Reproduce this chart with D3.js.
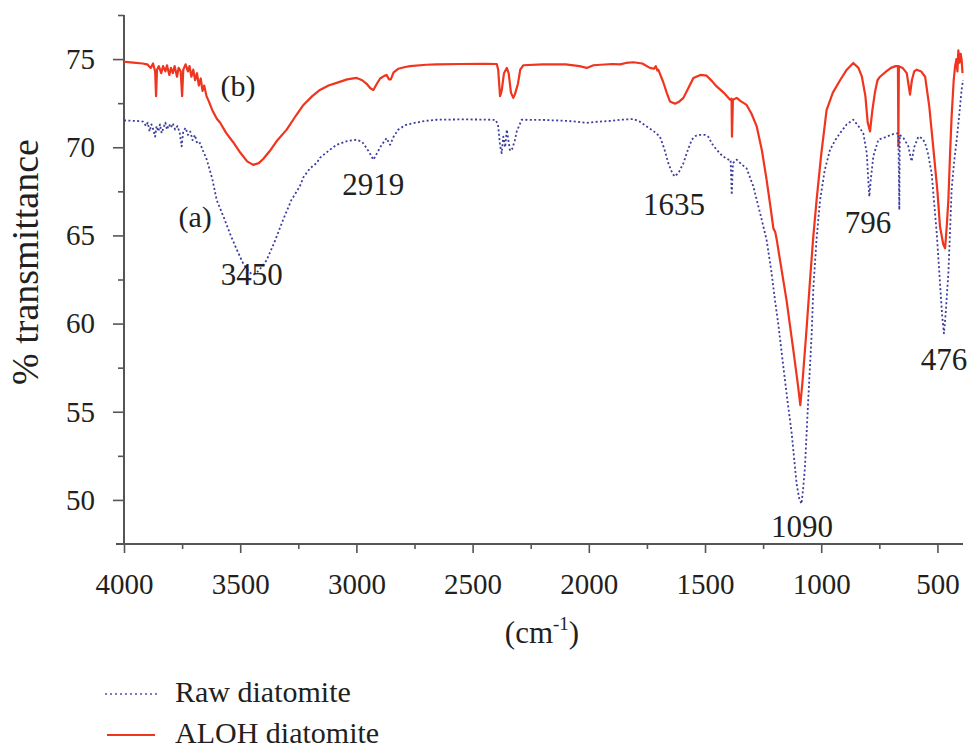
<!DOCTYPE html>
<html>
<head>
<meta charset="utf-8">
<script src="https://cdn.jsdelivr.net/npm/d3@7"></script>
<style>
  html, body { margin: 0; padding: 0; background: #fff; }
  svg { display: block; font-family: "Liberation Serif", "DejaVu Serif", serif; }
</style>
</head>
<body>
<svg id="chart" width="973" height="749"></svg>
<script>
// ---------- DATA ----------
const xTicks = [4000, 3500, 3000, 2500, 2000, 1500, 1000, 500];
const xMinorTicks = [3750, 3250, 2750, 2250, 1750, 1250, 750];
const yTicks = [50, 55, 60, 65, 70, 75];
const yMinorTicks = [52.5, 57.5, 62.5, 67.5, 72.5, 77.5];

// Raw diatomite (a): wavenumber (cm-1) and % transmittance
const rawWn = [4000,3960,3930,3918,3905,3898,3890,3882,3874,3866,3860,3852,3845,3838,3830,3822,3815,3806,3798,3790,3780,3770,3760,3752,3745,3735,3725,3715,3705,3695,3685,3673,3660,3644,3620,3601,3570,3544,3515,3487,3460,3444,3420,3386,3350,3315,3280,3243,3228,3200,3171,3157,3114,3085,3040,2999,2975,2956,2940,2927,2910,2891,2870,2862,2855,2840,2820,2790,2755,2700,2655,2550,2450,2400,2390,2382,2375,2368,2360,2353,2345,2339,2330,2318,2310,2289,2200,2100,2050,2009,1960,1900,1866,1808,1780,1751,1720,1694,1675,1658,1640,1629,1612,1593,1575,1557,1540,1522,1500,1486,1470,1450,1425,1400,1390,1385,1380,1364,1340,1321,1292,1263,1235,1215,1199,1185,1163,1145,1127,1106,1095,1085,1078,1070,1056,1041,1034,1020,1005,985,962,940,919,890,862,840,819,804,797,793,788,776,754,718,690,668,664,662,645,625,615,611,600,582,565,553,540,525,510,503,490,480,472,465,453,445,439,428,417,405,396,390];
const rawT = [71.52,71.5,71.48,71.45,71.2,71.4,70.9,71.3,71.0,70.6,71.2,70.9,71.3,70.8,71.1,71.4,71.0,71.3,71.1,71.35,71.0,71.2,70.8,70.05,70.9,71.1,70.7,70.9,70.4,70.7,70.2,70.24,69.8,69.3,68.2,67.0,66.0,65.1,64.2,63.4,62.9,62.76,63.0,63.6,64.7,65.9,67.0,67.8,68.3,68.8,69.1,69.4,69.86,70.14,70.35,70.43,70.3,69.95,69.6,69.29,69.7,70.14,70.52,70.3,70.14,70.6,71.0,71.25,71.37,71.5,71.56,71.58,71.57,71.55,71.2,70.1,69.67,70.6,70.0,71.0,70.3,69.8,69.9,70.4,70.9,71.56,71.55,71.5,71.45,71.38,71.45,71.5,71.56,71.6,71.45,71.18,70.9,70.6,69.9,69.1,68.5,68.34,68.6,69.1,69.8,70.43,70.65,70.7,70.7,70.6,70.2,69.86,69.5,69.3,69.3,67.3,69.1,69.3,69.0,68.8,67.77,66.26,64.74,63.0,61.33,60.0,57.55,55.6,53.76,50.92,50.1,49.78,50.6,51.86,55.65,59.44,62.0,64.8,67.0,68.7,69.86,70.4,70.8,71.3,71.56,71.2,70.8,69.67,68.0,67.2,68.0,69.48,70.43,70.6,70.75,70.8,66.45,70.7,70.5,70.05,69.4,69.2,70.0,70.6,70.5,70.24,69.6,68.53,66.2,65.12,62.5,60.5,59.44,60.5,62.85,65.5,67.6,69.2,70.43,72.0,73.27,73.8];

// ALOH diatomite (b)
const alohWn = [4000,3960,3920,3900,3885,3875,3866,3862,3858,3850,3840,3832,3822,3815,3805,3798,3790,3782,3772,3765,3756,3750,3745,3735,3725,3718,3710,3702,3694,3686,3678,3670,3662,3655,3645,3635,3620,3600,3587,3560,3531,3500,3470,3444,3420,3400,3372,3340,3300,3260,3228,3190,3157,3120,3085,3040,2999,2975,2956,2940,2927,2912,2898,2880,2870,2860,2852,2840,2820,2790,2769,2700,2655,2550,2450,2396,2390,2382,2375,2365,2353,2345,2335,2325,2318,2305,2295,2282,2200,2100,2040,2009,1980,1900,1866,1840,1808,1770,1737,1720,1712,1705,1701,1680,1665,1651,1629,1610,1593,1570,1550,1520,1493,1470,1450,1420,1392,1386,1384,1380,1364,1345,1321,1300,1278,1255,1235,1215,1206,1198,1192,1170,1149,1120,1100,1090,1080,1070,1062,1048,1035,1020,1000,977,950,919,890,862,840,825,810,800,790,780,769,758,747,720,700,680,670,668,666,650,632,625,618,610,600,589,570,553,535,517,500,489,475,467,460,453,446,439,430,424,418,414,410,405,400,396,392];
const alohT = [74.85,74.8,74.75,74.7,74.5,74.75,74.3,72.9,74.4,74.6,74.2,74.6,74.3,74.65,74.1,74.5,74.2,74.6,74.0,74.5,74.3,72.9,74.4,74.7,74.3,74.6,74.0,74.4,73.8,74.2,73.5,73.9,73.2,73.5,72.9,72.6,72.1,71.6,71.4,70.8,70.3,69.7,69.2,69.0,69.1,69.35,69.8,70.4,71.0,71.8,72.4,72.9,73.25,73.5,73.65,73.85,73.93,73.8,73.6,73.35,73.25,73.6,73.9,74.05,74.1,73.85,73.85,74.25,74.45,74.55,74.6,74.68,74.7,74.72,74.73,74.72,74.4,72.9,73.2,74.2,74.5,74.2,73.1,72.8,73.0,73.6,74.4,74.65,74.7,74.7,74.6,74.5,74.65,74.72,74.7,74.78,74.82,74.75,74.5,74.45,74.6,74.35,74.4,73.7,73.1,72.6,72.47,72.6,72.8,73.4,73.93,74.1,74.06,73.75,73.45,73.1,72.7,72.75,70.6,72.7,72.8,72.6,72.4,71.9,71.2,69.8,68.15,66.3,65.4,65.2,64.8,63.0,61.3,58.5,56.5,55.37,56.8,58.5,59.9,62.5,64.8,67.0,69.6,72.1,73.1,73.8,74.4,74.78,74.5,74.0,72.9,71.4,70.9,72.1,73.1,73.8,74.0,74.3,74.5,74.6,74.6,70.05,74.6,74.5,74.2,73.6,72.98,73.8,74.3,74.4,74.3,74.0,72.3,69.86,67.5,65.5,64.5,64.27,65.5,67.0,69.5,71.75,73.8,74.6,75.0,74.3,75.5,74.8,75.3,74.97,74.2];

const peakLabels = ["3450", "2919", "1635", "1090", "796", "476"];
const peakWn = [3450, 2928, 1633, 1083, 799, 472];
const peakT = [62.19, 67.29, 66.16, 47.9, 65.14, 57.37];   // label anchor (value at text baseline)
const seriesNames = ["Raw diatomite", "ALOH diatomite"];
const curveTags = ["(a)", "(b)"];
const curveTagWn = [3694, 3509];
const curveTagT = [65.48, 72.91];

// ---------- LAYOUT ----------
const svg = d3.select("#chart");
const M = { left: 124, top: 15 };
const W = 963 - M.left, H = 544 - M.top;
const axisColor = "#555";
const textColor = "#231f20";
const blue = "#3d3d9e";
const red = "#f0341e";
const serif = '"Liberation Serif", "DejaVu Serif", serif';

const x = d3.scaleLinear().domain([4000, 390]).range([M.left, M.left + W]);
const y = d3.scaleLinear().domain([47.5, 77.5]).range([M.top + H, M.top]);

// ---------- AXES ----------
const gx = svg.append("g").attr("transform", `translate(0,${M.top + H})`)
  .call(d3.axisBottom(x).tickValues(xTicks).tickFormat(d3.format("d")).tickSizeInner(9).tickSizeOuter(0).tickPadding(20));
const gxm = svg.append("g").attr("transform", `translate(0,${M.top + H})`)
  .call(d3.axisBottom(x).tickValues(xMinorTicks).tickFormat("").tickSizeInner(5).tickSizeOuter(0));
const gy = svg.append("g").attr("transform", `translate(${M.left},0)`)
  .call(d3.axisLeft(y).tickValues(yTicks).tickFormat(d3.format("d")).tickSizeInner(11).tickSizeOuter(0).tickPadding(18));
const gym = svg.append("g").attr("transform", `translate(${M.left},0)`)
  .call(d3.axisLeft(y).tickValues(yMinorTicks).tickFormat("").tickSizeInner(6).tickSizeOuter(0));

[gx, gxm, gy, gym].forEach(g => {
  g.attr("font-family", serif);
  g.select(".domain").remove();
  g.selectAll(".tick line").attr("stroke", axisColor).attr("stroke-width", 1.6);
  g.selectAll(".tick text").attr("fill", textColor).attr("font-family", serif).style("font-size", "29px");
});
gx.selectAll(".tick text").attr("dy", "0.71em");

// axis lines
svg.append("line").attr("x1", M.left - 8).attr("x2", M.left + W).attr("y1", M.top + H).attr("y2", M.top + H)
  .attr("stroke", axisColor).attr("stroke-width", 2);
svg.append("line").attr("x1", M.left).attr("x2", M.left).attr("y1", M.top).attr("y2", M.top + H)
  .attr("stroke", axisColor).attr("stroke-width", 2);

// ---------- CURVES ----------
const line = d3.line().x(d => x(d[0])).y(d => y(d[1]));
const rawData = rawWn.map((w, i) => [w, rawT[i]]);
const alohData = alohWn.map((w, i) => [w, alohT[i]]);

svg.append("path").datum(alohData).attr("d", line)
  .attr("fill", "none").attr("stroke", red).attr("stroke-width", 2.2).attr("stroke-linejoin", "round");
svg.append("path").datum(rawData).attr("d", line)
  .attr("fill", "none").attr("stroke", blue).attr("stroke-width", 1.8)
  .attr("stroke-dasharray", "2,2.4").attr("stroke-linejoin", "round");

// ---------- LABELS ----------
svg.selectAll("text.peak").data(peakLabels).enter().append("text")
  .attr("class", "peak")
  .attr("x", (d, i) => x(peakWn[i]))
  .attr("y", (d, i) => y(peakT[i]))
  .attr("text-anchor", "middle")
  .attr("fill", textColor)
  .attr("font-family", serif)
  .style("font-size", "31px")
  .text(d => d);

svg.selectAll("text.tag").data(curveTags).enter().append("text")
  .attr("class", "tag")
  .attr("x", (d, i) => x(curveTagWn[i]))
  .attr("y", (d, i) => y(curveTagT[i]))
  .attr("text-anchor", "middle")
  .attr("fill", textColor)
  .attr("font-family", serif)
  .style("font-size", "30px")
  .text(d => d);

// y title
svg.append("text")
  .attr("transform", `translate(38,${262}) rotate(-90)`)
  .attr("text-anchor", "middle")
  .attr("fill", textColor)
  .attr("font-family", serif)
  .style("font-size", "38px")
  .text("% transmittance");

// x title
const xt = svg.append("text")
  .attr("x", 542).attr("y", 643)
  .attr("text-anchor", "middle")
  .attr("fill", textColor)
  .attr("font-family", serif)
  .style("font-size", "31px");
xt.append("tspan").text("(cm");
xt.append("tspan").attr("dy", -13).style("font-size", "19px").text("-1");
xt.append("tspan").attr("dy", 13).text(")");

// ---------- LEGEND ----------
const legY = [694, 735];
const leg = svg.append("g");
leg.append("line").attr("x1", 105).attr("x2", 157).attr("y1", legY[0]).attr("y2", legY[0])
  .attr("stroke", "#7a7ac4").attr("stroke-width", 1.8).attr("stroke-dasharray", "2,3");
leg.append("line").attr("x1", 107).attr("x2", 155).attr("y1", legY[1]).attr("y2", legY[1])
  .attr("stroke", red).attr("stroke-width", 2);
leg.selectAll("text").data(seriesNames).enter().append("text")
  .attr("x", 175).attr("y", (d, i) => legY[i] + 8)
  .attr("fill", textColor)
  .attr("font-family", serif)
  .style("font-size", "30px")
  .text(d => d);
</script>
</body>
</html>
